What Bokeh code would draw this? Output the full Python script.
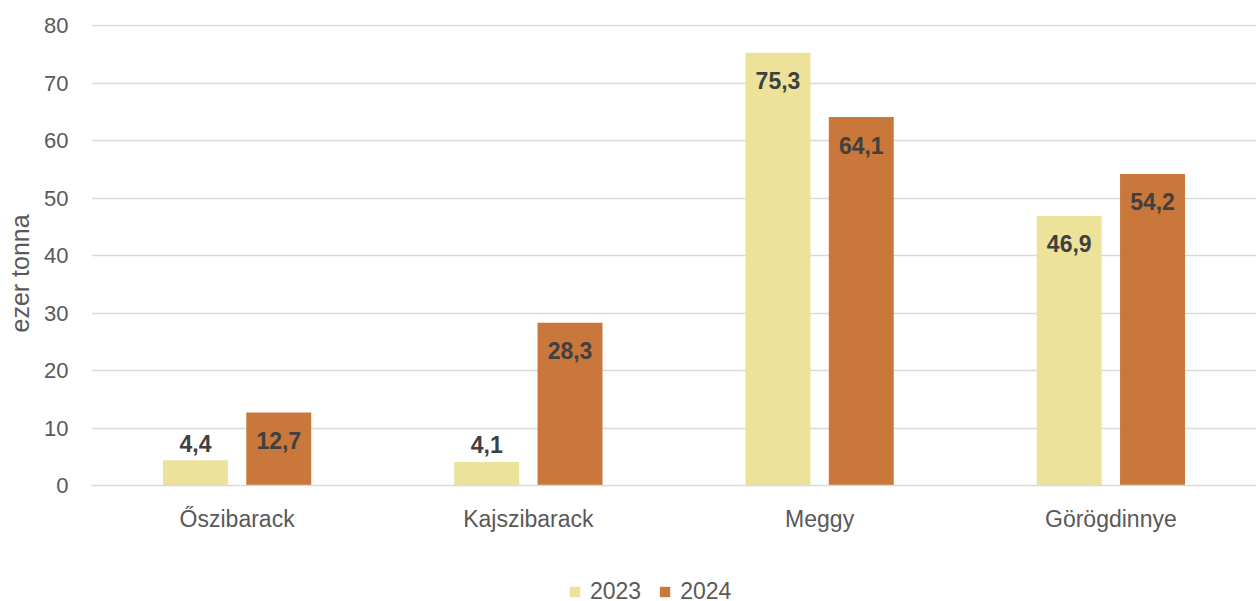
from bokeh.plotting import figure
from bokeh.models import (ColumnDataSource, FactorRange, LabelSet, Legend, LegendItem,
                          FixedTicker, Title)
from bokeh.layouts import column
from bokeh.transform import dodge
from bokeh.core.properties import value
from bokeh.embed import file_html
from bokeh.resources import INLINE

categories = ["Őszibarack", "Kajszibarack", "Meggy", "Görögdinnye"]
series_names = ["2023", "2024"]
values_2023 = [4.4, 4.1, 75.3, 46.9]
values_2024 = [12.7, 28.3, 64.1, 54.2]
y_ticks = [0, 10, 20, 30, 40, 50, 60, 70, 80]
y_title = "ezer tonna"

FONT = "Liberation Sans"
C2023 = "#ECE29A"
C2024 = "#C9773A"
GRID = "#D9D9D9"
TXT = "#595959"

def fmt(v):
    return f"{v:.1f}".replace(".", ",")

def offsets(vals):
    # small bars: label outside end, otherwise inside end
    return [17 if v < 10 else -28 for v in vals]

src = ColumnDataSource(dict(
    cat=categories,
    v23=values_2023,
    v24=values_2024,
    l23=[fmt(v) for v in values_2023],
    l24=[fmt(v) for v in values_2024],
    o23=offsets(values_2023),
    o24=offsets(values_2024),
))

p = figure(width=1256, height=545, output_backend="svg", toolbar_location=None,
           x_range=FactorRange(factors=categories, range_padding=0),
           y_range=(0, 80.2), min_border_left=91, min_border_right=0,
           min_border_top=24, min_border_bottom=60)
p.outline_line_color = None
p.background_fill_color = "white"
p.border_fill_color = "white"

r1 = p.vbar(x=dodge("cat", -0.143, range=p.x_range), top="v23", width=0.223,
            source=src, fill_color=C2023, line_color=None)
r2 = p.vbar(x=dodge("cat", 0.143, range=p.x_range), top="v24", width=0.223,
            source=src, fill_color=C2024, line_color=None)

for xo, col, lab, off in [(-0.143, "v23", "l23", "o23"), (0.143, "v24", "l24", "o24")]:
    ls = LabelSet(x=dodge("cat", xo, range=p.x_range), y=col, text=lab, source=src,
                  y_offset=off, text_align="center", text_baseline="middle",
                  text_font=value(FONT), text_font_size="23px", text_font_style="bold",
                  text_color="#404040")
    p.add_layout(ls)

p.yaxis.ticker = FixedTicker(ticks=y_ticks)
p.yaxis.axis_line_color = None
p.yaxis.major_tick_line_color = None
p.yaxis.minor_tick_line_color = None
p.yaxis.major_label_text_font = FONT
p.yaxis.major_label_text_font_size = "22px"
p.yaxis.major_label_text_color = TXT
p.yaxis.major_label_standoff = 17

p.add_layout(Title(text=y_title, align="left", offset=153, standoff=11,
                   vertical_align="top",
                   text_font=FONT, text_font_size="25px", text_font_style="normal",
                   text_color=TXT), "left")

p.xaxis.axis_line_color = GRID
p.xaxis.axis_line_width = 1.5
p.xaxis.major_tick_line_color = None
p.xaxis.minor_tick_line_color = None
p.xaxis.major_label_text_font = FONT
p.xaxis.major_label_text_font_size = "23px"
p.xaxis.major_label_text_color = TXT
p.xaxis.major_label_standoff = 14

p.xgrid.grid_line_color = None
p.ygrid.grid_line_color = GRID
p.ygrid.grid_line_width = 1.5
p.ygrid.ticker = FixedTicker(ticks=y_ticks)

# legend strip below the chart
q = figure(width=1256, height=56, output_backend="svg", toolbar_location=None,
           x_range=FactorRange(factors=categories, range_padding=0), y_range=(1000, 1001),
           x_axis_type=None, y_axis_type=None, min_border=0)
q.outline_line_color = None
q.grid.grid_line_color = None
q.border_fill_color = "white"
lr1 = q.vbar(x="cat", top="v23", width=0.2, source=src, fill_color=C2023, line_color=None)
lr2 = q.vbar(x="cat", top="v24", width=0.2, source=src, fill_color=C2024, line_color=None)

legend = Legend(items=[LegendItem(label=series_names[0], renderers=[lr1]),
                       LegendItem(label=series_names[1], renderers=[lr2])],
                orientation="horizontal", location=(477, -4),
                label_text_font=FONT, label_text_font_size="23px",
                label_text_color=TXT, glyph_width=13, glyph_height=13,
                spacing=17, label_standoff=9, padding=0, margin=0,
                border_line_color=None, background_fill_alpha=0)
q.add_layout(legend, "center")

layout = column(p, q, spacing=0)
open("out.html", "w").write(file_html(layout, INLINE))
